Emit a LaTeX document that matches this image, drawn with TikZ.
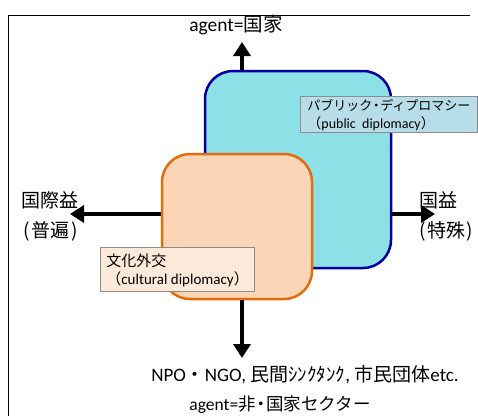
\documentclass[tikz,border=0pt]{standalone}
\usepackage{fontspec}
\setmainfont{Carlito}
\newfontfamily\jp{Noto Sans CJK JP}
\usetikzlibrary{arrows.meta}
\definecolor{cyanfill}{RGB}{140,224,230}
\definecolor{cyanedge}{RGB}{0,0,160}
\definecolor{peachfill}{RGB}{251,213,181}
\definecolor{orangeedge}{RGB}{228,108,10}
\definecolor{bluetag}{RGB}{183,222,232}
\definecolor{peachtag}{RGB}{253,233,217}
\begin{document}
\begin{tikzpicture}[x=1pt,y=-1pt,
  bigbox/.style={rounded corners=28pt, line width=2.5pt, inner sep=0pt},
  tag/.style={draw=gray!90, line width=0.8pt, align=left, anchor=north west,
    inner xsep=6pt, inner ysep=2pt, text depth=0pt},
  arr/.style={line width=4pt, -{Triangle[width=17pt,length=14pt]}},
  big/.style={font=\fontsize{19}{22}\selectfont, inner sep=0pt},
  small/.style={font=\fontsize{15}{18}\selectfont}
]
\useasboundingbox (0,0) rectangle (478,416);
\draw[line width=1pt] (8,416) -- (8,15) -- (470,15);

% boxes
\node[bigbox, draw=cyanedge, fill=cyanfill, minimum width=186pt, minimum height=197pt] (blue) at (298,169.5) {};
\node[tag, fill=bluetag, minimum width=177pt, minimum height=36pt, font=\fontsize{13}{18}\selectfont] (bluetag) at (300,96)
  {{\jp パブリック\makebox[0.6em][c]{・}ディプロマシー}\\{\fontsize{14}{18}\selectfont{\jp （}public\ \ diplomacy{\jp ）}}};
\node[bigbox, draw=orangeedge, fill=peachfill, minimum width=150pt, minimum height=145pt] (orange) at (237,226.5) {};
\node[tag, fill=peachtag, minimum width=142pt, minimum height=44pt, small] (orangetag) at (100,247)
  {{\jp 文化外交}\\{\jp （}cultural diplomacy{\jp ）}};

% arrow ends
\coordinate (utip) at (242,42);
\coordinate (ltip) at (70,214);
\coordinate (rtip) at (435,214);
\coordinate (dtip) at (242,358);

\draw[arr] (blue.north -| utip) -- (utip);
\draw[arr] (orange.west |- ltip) -- (ltip);
\draw[arr] (blue.east |- rtip) -- (rtip);
\draw[arr] (orange.south -| dtip) -- (dtip);

% labels
\node[big, font=\fontsize{19.5}{22}\selectfont] (top) at (236,25) {agent={\jp 国家}};
\node[big, anchor=west] (l1) at (21,200) {\jp 国際益};
\node[big, anchor=west] (l2) at (21,231) {\jp \kern2pt(\kern2pt普遍\kern2pt)};
\node[big, anchor=west] (r1) at (419,200) {\jp 国益};
\node[big, anchor=west] (r2) at (418,231) {\jp \kern1pt(\kern2pt特殊\kern1pt)};
\node[font=\fontsize{19}{22}\selectfont, inner sep=0pt] (b1) at (305,375)
  {NPO{\jp ・}NGO, {\jp 民間ｼﾝｸﾀﾝｸ}, {\jp 市民団体}etc.};
\node[font=\fontsize{17.5}{22}\selectfont, inner sep=0pt] (b2) at (280,405)
  {agent={\jp 非\makebox[0.6em][c]{・}国家セクター}};
\end{tikzpicture}
\end{document}
